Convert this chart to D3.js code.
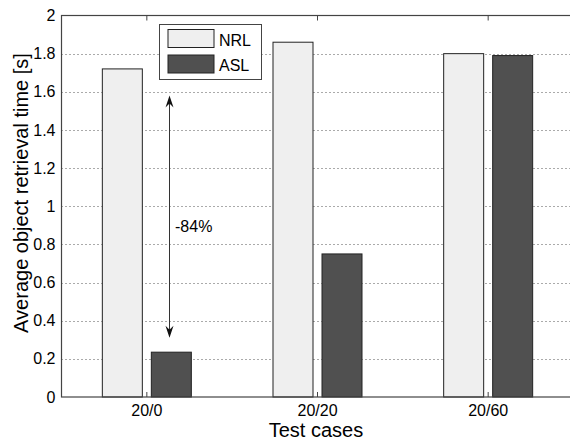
<!DOCTYPE html>
<html>
<head>
<meta charset="utf-8">
<script src="https://cdn.jsdelivr.net/npm/d3@7"></script>
<style>
  html, body { margin: 0; padding: 0; background: #fff; }
  svg { display: block; font-family: "Liberation Sans", Arial, sans-serif; }
</style>
</head>
<body>
<svg id="chart" width="570" height="441"></svg>
<script>
// Test cases and average retrieval times (seconds)
const categories = ["20/0", "20/20", "20/60"];
const seriesNames = ["NRL", "ASL"];
const nrlValues = [1.72, 1.86, 1.80];
const aslValues = [0.235, 0.75, 1.79];
const yTicks = [0, 0.2, 0.4, 0.6, 0.8, 1, 1.2, 1.4, 1.6, 1.8, 2];
const annotation = { label: "-84%", from: 1.58, to: 0.31, category: "20/0" };

const colors = { NRL: "#efefef", ASL: "#505050" };

const svg = d3.select("#chart");
const plotL = 61.5, plotR = 573.5, plotT = 15.5, plotB = 397;

const x = d3.scaleBand().domain(categories).range([plotL, plotR]).paddingInner(0).paddingOuter(0);
const y = d3.scaleLinear().domain([0, 2]).range([plotB, plotT]);

const barW = 40, offset = 24.5;
const rows = categories.map((c, i) => ({ c, NRL: nrlValues[i], ASL: aslValues[i] }));
const cx = c => x(c) + x.bandwidth() / 2;

// dotted horizontal grid
svg.append("g").selectAll("line").data(yTicks.filter(t => t > 0 && t < 2)).join("line")
  .attr("x1", plotL).attr("x2", plotR)
  .attr("y1", d => Math.round(y(d)) + 0.5).attr("y2", d => Math.round(y(d)) + 0.5)
  .attr("stroke", "#555").attr("stroke-width", 1).attr("stroke-dasharray", "1,3");

// bars
const bars = svg.append("g");
seriesNames.forEach((s, si) => {
  bars.selectAll(null).data(rows).join("rect")
    .attr("x", d => cx(d.c) + (si === 0 ? -offset : offset) - barW / 2)
    .attr("width", barW)
    .attr("y", d => y(d[s]))
    .attr("height", d => plotB - y(d[s]))
    .attr("fill", colors[s])
    .attr("stroke", "#222").attr("stroke-width", 1);
});

// plot box
svg.append("rect").attr("x", plotL).attr("y", plotT).attr("width", plotR - plotL).attr("height", plotB - plotT)
  .attr("fill", "none").attr("stroke", "#444").attr("stroke-width", 1.2);

// y axis
const yAxis = svg.append("g").attr("transform", `translate(${plotL},0)`)
  .call(d3.axisLeft(y).tickValues(yTicks).tickSize(0).tickPadding(6).tickFormat(d3.format("~g")));
yAxis.select(".domain").remove();
yAxis.selectAll("text").attr("font-size", 16).attr("fill", "#000")
  .attr("font-family", "Liberation Sans, Arial, sans-serif");

// x axis
const xAxis = svg.append("g").attr("transform", `translate(0,${plotB})`)
  .call(d3.axisBottom(x).tickSize(0).tickPadding(8));
xAxis.select(".domain").remove();
xAxis.selectAll("text").attr("font-size", 16).attr("fill", "#000")
  .attr("font-family", "Liberation Sans, Arial, sans-serif");

// small inward ticks at category centers (bottom and top)
svg.append("g").selectAll("line").data(categories).join("line")
  .attr("x1", d => cx(d)).attr("x2", d => cx(d))
  .attr("y1", plotB).attr("y2", plotB - 5).attr("stroke", "#444");
svg.append("g").selectAll("line").data(categories).join("line")
  .attr("x1", d => cx(d)).attr("x2", d => cx(d))
  .attr("y1", plotT).attr("y2", plotT + 5).attr("stroke", "#444");

// axis titles
svg.append("text").attr("x", 316).attr("y", 437).attr("text-anchor", "middle")
  .attr("font-size", 20).text("Test cases");
svg.append("text").attr("transform", "translate(28,193) rotate(-90)").attr("text-anchor", "middle")
  .attr("font-size", 20).text("Average object retrieval time [s]");

// double-headed arrow with percentage label
const ax = 169.5;
const y1 = y(annotation.from), y2 = y(annotation.to);
svg.append("line").attr("x1", ax).attr("x2", ax).attr("y1", y1 + 4).attr("y2", y2 - 4)
  .attr("stroke", "#333").attr("stroke-width", 1);
svg.append("path").attr("d", `M${ax},${y1} L${ax - 4},${y1 + 12} L${ax},${y1 + 8} L${ax + 4},${y1 + 12} Z`).attr("fill", "#111");
svg.append("path").attr("d", `M${ax},${y2} L${ax - 4},${y2 - 12} L${ax},${y2 - 8} L${ax + 4},${y2 - 12} Z`).attr("fill", "#111");
svg.append("text").attr("x", 175).attr("y", 232).attr("font-size", 16).text(annotation.label);

// legend
const lg = svg.append("g");
lg.append("rect").attr("x", 159.5).attr("y", 24.5).attr("width", 102).attr("height", 55)
  .attr("fill", "#fff").attr("stroke", "#444").attr("stroke-width", 1);
seriesNames.forEach((s, i) => {
  lg.append("rect").attr("x", 168).attr("y", 29.5 + i * 25.5).attr("width", 46).attr("height", 18)
    .attr("fill", colors[s]).attr("stroke", "#222");
  lg.append("text").attr("x", 219).attr("y", 46 + i * 25).attr("font-size", 16).text(s);
});
</script>
</body>
</html>
